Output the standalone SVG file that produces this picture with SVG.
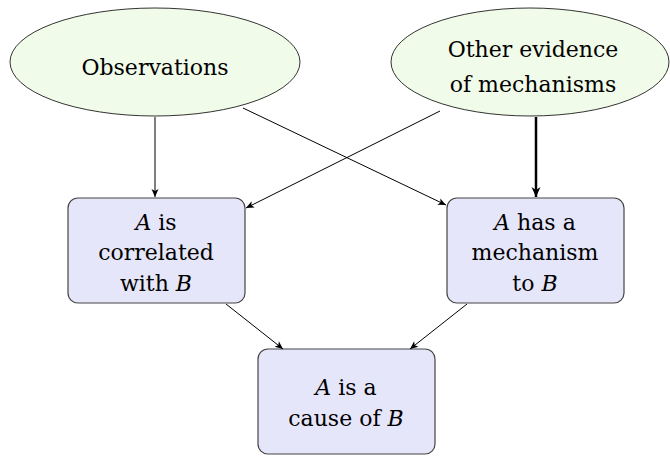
<svg xmlns="http://www.w3.org/2000/svg" width="670" height="456" viewBox="0 0 670 456">
<defs>
<marker id="ah" markerWidth="10" markerHeight="10" refX="9" refY="5" orient="auto" markerUnits="userSpaceOnUse">
<path d="M1,1.5 L9,5 L1,8.5 L3,5 Z" fill="#000"/>
</marker>
<marker id="ahb" markerWidth="12" markerHeight="12" refX="10" refY="6" orient="auto" markerUnits="userSpaceOnUse">
<path d="M0,1.5 L10,6 L0,10.5 L3,6 Z" fill="#000"/>
</marker>
</defs>
<style>
.ell{fill:#f1fbe9;stroke:#000;stroke-width:0.8}
.box{fill:#e6e6fa;stroke:#444;stroke-width:1.2}
.t{font-family:"DejaVu Serif",serif;font-size:22px;fill:#000;text-anchor:middle}
.i{font-style:italic}
.c line{stroke:#000;stroke-width:1;marker-end:url(#ah)}
.c line.thick{stroke-width:2.5;marker-end:url(#ahb)}
</style>
<g id="observations">
<ellipse class="ell" cx="155" cy="62" rx="145" ry="54"/>
<text class="t" x="155" y="75">Observations</text>
</g>
<g id="other-evidence">
<ellipse class="ell" cx="530" cy="62" rx="139" ry="54"/>
<text class="t" x="533" y="57">Other evidence</text>
<text class="t" x="533" y="92">of mechanisms</text>
</g>
<g id="correlated">
<rect class="box" x="68" y="198" width="177" height="105" rx="10"/>
<text class="t" x="156" y="230"><tspan class="i">A</tspan> is</text>
<text class="t" x="156" y="260">correlated</text>
<text class="t" x="156" y="291">with <tspan class="i">B</tspan></text>
</g>
<g id="mechanism">
<rect class="box" x="447" y="198" width="177" height="105" rx="10"/>
<text class="t" x="535" y="230"><tspan class="i">A</tspan> has a</text>
<text class="t" x="535" y="260">mechanism</text>
<text class="t" x="535" y="291">to <tspan class="i">B</tspan></text>
</g>
<g id="cause">
<rect class="box" x="258" y="349" width="177" height="105" rx="10"/>
<text class="t" x="346" y="395"><tspan class="i">A</tspan> is a</text>
<text class="t" x="346" y="426">cause of <tspan class="i">B</tspan></text>
</g>
<g id="connectors" class="c">
<line x1="155" y1="117" x2="155" y2="197"/>
<line x1="243" y1="108" x2="446" y2="205"/>
<line x1="440" y1="111" x2="246" y2="208"/>
<line class="thick" x1="536" y1="117" x2="536" y2="197"/>
<line x1="226" y1="304" x2="283" y2="349"/>
<line x1="467" y1="304" x2="410" y2="349"/>
</g>
</svg>
